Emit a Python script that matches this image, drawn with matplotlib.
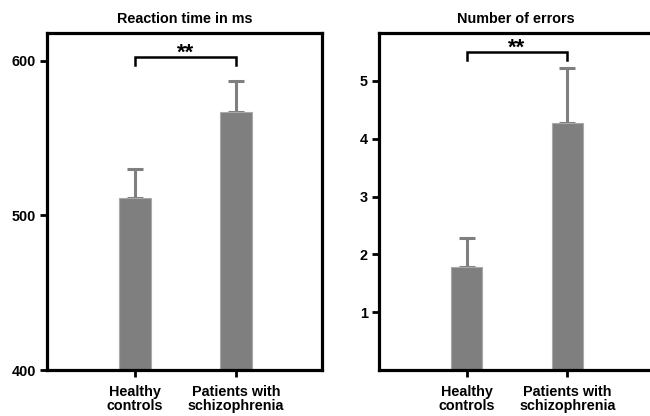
import matplotlib
matplotlib.use("Agg")
import matplotlib.pyplot as plt

plt.rcParams['font.family'] = ['Liberation Sans', 'DejaVu Sans']
plt.rcParams['font.weight'] = 'bold'

groups = ["Healthy\ncontrols", "Patients with\nschizophrenia"]

rt_means = [511, 567]
rt_errs = [19, 20]
rt_ticks = [400, 500, 600]

err_means = [1.79, 4.27]
err_errs = [0.49, 0.95]
err_ticks = [1, 2, 3, 4, 5]

BAR = "#7f7f7f"
EDGE = "#a9a9a9"
FS = 10.4

fig = plt.figure(figsize=(6.5, 4.16), dpi=100)
ax1 = fig.add_axes([47/650, 1-370/416, 275/650, 337/416])
ax2 = fig.add_axes([379/650, 1-370/416, 274/650, 337/416])


def panel(ax, means, errs, ylim, ticks, title, bracket_y, bracket_drop, star_y):
    x = list(range(len(means)))
    ax.bar(x, means, width=0.31, color=BAR, edgecolor=EDGE, linewidth=0.8, zorder=2)
    ax.errorbar(x, means, yerr=[[0]*len(errs), errs], fmt='none', ecolor=BAR,
                elinewidth=2.2, capsize=6, capthick=2.2, zorder=1)
    ax.set_xlim(-0.87, 1.85)
    ax.set_ylim(*ylim)
    ax.set_yticks(ticks)
    ax.set_yticklabels([str(t) for t in ticks], fontsize=FS, fontweight='bold')
    ax.set_xticks(x)
    ax.set_xticklabels(groups, fontsize=FS, fontweight='bold', linespacing=1.0)
    for s in ax.spines.values():
        s.set_linewidth(2.3)
    ax.tick_params(axis='y', direction='out', length=5, width=2.0, pad=3)
    ax.tick_params(axis='x', direction='out', length=5, width=2.0, pad=6)
    ax.set_title(title, fontsize=FS, fontweight='bold', pad=7.5)
    ax.plot([0, 0, 1, 1], [bracket_y - bracket_drop, bracket_y, bracket_y, bracket_y - bracket_drop],
            color='black', lw=1.8, solid_joinstyle='miter', clip_on=False, zorder=3)
    ax.text(0.5, star_y, "**", ha='center', va='center', fontsize=16, fontweight='bold')


panel(ax1, rt_means, rt_errs, (400, 618), rt_ticks, "Reaction time in ms", 602.5, 5, 605.2)
panel(ax2, err_means, err_errs, (0, 5.83), err_ticks, "Number of errors", 5.5, 0.14, 5.56)

fig.savefig("out.png", dpi=100)
